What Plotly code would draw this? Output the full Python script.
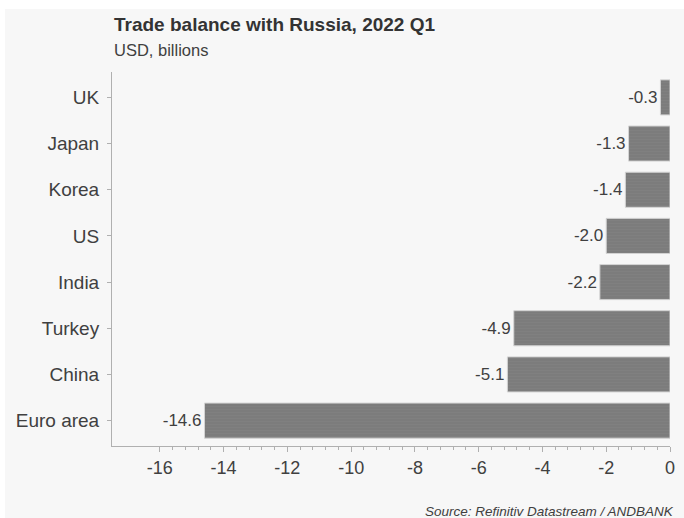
import plotly.graph_objects as go

# Trade balance with Russia, 2022 Q1 (USD billions)
countries = ["UK", "Japan", "Korea", "US", "India", "Turkey", "China", "Euro area"]
balance = [-0.3, -1.3, -1.4, -2.0, -2.2, -4.9, -5.1, -14.6]
x_ticks = [-16, -14, -12, -10, -8, -6, -4, -2, 0]
# minor ticks every 0.4 between the first and last major tick
minor_ticks = [round(-16 + 0.4 * i, 1) for i in range(41)]

TEXT = "#404040"
AXIS = "#b0b0b0"
PANEL = "#f7f7f7"

fig = go.Figure(
    go.Bar(
        y=countries,
        x=balance,
        orientation="h",
        width=0.76,
        marker=dict(
            color="#7f7f7f",
            line=dict(color="#d4d4d4", width=1),
            pattern=dict(shape="-", fgcolor="#868686", bgcolor="#7a7a7a",
                         size=3, solidity=0.5),
        ),
        text=[f"{v:.1f}" for v in balance],
        textposition="outside",
        textfont=dict(size=17, color=TEXT),
        cliponaxis=False,
        hoverinfo="skip",
    )
)

fig.update_layout(
    width=684,
    height=518,
    margin=dict(l=112, r=14, t=72, b=72, autoexpand=False),
    paper_bgcolor="white",
    plot_bgcolor=PANEL,
    font=dict(family="Liberation Sans, Arial, sans-serif", color=TEXT),
    showlegend=False,
    shapes=[
        dict(type="rect", xref="paper", yref="paper", layer="below",
             x0=-107 / 558, x1=1 + 14 / 558, y0=-72 / 374, y1=1 + 63 / 374,
             fillcolor=PANEL, line=dict(width=0)),
    ],
    annotations=[
        dict(text="<b>Trade balance with Russia, 2022 Q1</b>", xref="paper", yref="paper",
             x=0, y=1 + 47 / 374, xanchor="left", yanchor="middle",
             showarrow=False, font=dict(size=19, color="#333333")),
        dict(text="USD, billions", xref="paper", yref="paper",
             x=0, y=1 + 22 / 374, xanchor="left", yanchor="middle",
             showarrow=False, font=dict(size=16.5, color=TEXT)),
        dict(text="<i>Source: Refinitiv Datastream / ANDBANK</i>", xref="paper", yref="paper",
             x=1 + 6 / 558, y=-65 / 374, xanchor="right", yanchor="middle",
             showarrow=False, font=dict(size=13.5, color=TEXT)),
    ],
)

fig.update_xaxes(
    range=[-17.5, 0],
    tickvals=x_ticks,
    ticktext=[str(t) for t in x_ticks],
    showgrid=False,
    zeroline=False,
    showline=True,
    linecolor=AXIS,
    linewidth=1,
    ticks="outside",
    ticklen=5,
    tickcolor=AXIS,
    tickfont=dict(size=18, color=TEXT),
    minor=dict(tickvals=minor_ticks, ticks="outside", ticklen=3, tickcolor=AXIS, showgrid=False),
    automargin=False,
    fixedrange=True,
)

fig.update_yaxes(
    autorange=False,
    range=[7.55, -0.55],
    showgrid=False,
    zeroline=False,
    showline=True,
    linecolor=AXIS,
    linewidth=1,
    ticks="outside",
    ticklen=4,
    tickcolor=AXIS,
    tickfont=dict(size=19, color=TEXT),
    ticklabelstandoff=4,
    automargin=False,
    fixedrange=True,
)

fig.write_html("out.html")
